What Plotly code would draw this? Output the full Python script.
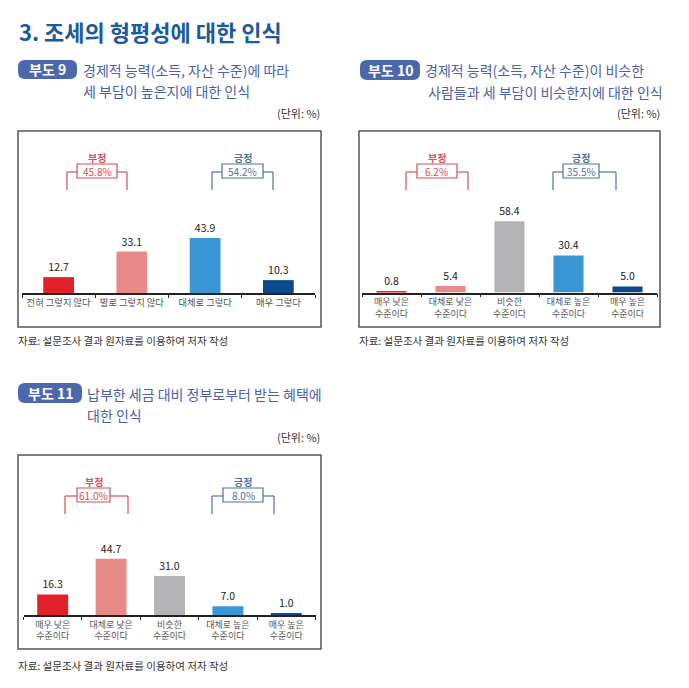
import plotly.graph_objects as go

# The page body has an 8px margin, so the figure is laid out 8px in from the top-left.
OFF = 8
W, H = 673, 672
FONT = "Noto Sans CJK KR"

# ---------------- data ----------------
cats1 = ["전혀 그렇지 않다", "별로 그렇지 않다", "대체로 그렇다", "매우 그렇다"]
vals1 = [12.7, 33.1, 43.9, 10.3]
groups1 = ["45.8%", "54.2%"]

cats2 = ["매우 낮은<br>수준이다", "대체로 낮은<br>수준이다", "비슷한<br>수준이다", "대체로 높은<br>수준이다", "매우 높은<br>수준이다"]
vals2 = [0.8, 5.4, 58.4, 30.4, 5.0]
groups2 = ["6.2%", "35.5%"]

cats3 = ["매우 낮은<br>수준이다", "대체로 낮은<br>수준이다", "비슷한<br>수준이다", "대체로 높은<br>수준이다", "매우 높은<br>수준이다"]
vals3 = [16.3, 44.7, 31.0, 7.0, 1.0]
groups3 = ["61.0%", "8.0%"]

group_names = ["부정", "긍정"]

RED, PINK, GRAY, BLUE, NAVY = "#e3212b", "#e78a88", "#b4b4b6", "#3a96d4", "#0e4a8b"
colors1 = [RED, PINK, BLUE, NAVY]
colors2 = [RED, PINK, GRAY, BLUE, NAVY]
colors3 = [RED, PINK, GRAY, BLUE, NAVY]

def xp(px):
    return (px - OFF) / W

def yp(py):
    return 1 - (py - OFF) / H

fig = go.Figure()

charts = [
    dict(cats=cats1, vals=vals1, colors=colors1, width=0.42, ax="x", ay="y",
         xd=(22, 315), base=293, top=131, scale=1.25, tick=9.3),
    dict(cats=cats2, vals=vals2, colors=colors2, width=0.51, ax="x2", ay="y2",
         xd=(362, 657), base=292.5, top=131, scale=1.22, tick=9),
    dict(cats=cats3, vals=vals3, colors=colors3, width=0.53, ax="x3", ay="y3",
         xd=(23.5, 315.5), base=615, top=455, scale=1.26, tick=9),
]

layout_axes = {}
for i, c in enumerate(charts):
    fig.add_trace(go.Bar(
        x=c["cats"], y=c["vals"], xaxis=c["ax"], yaxis=c["ay"],
        marker=dict(color=c["colors"], line=dict(width=0)),
        width=c["width"],
        text=[f"{v:.1f}" for v in c["vals"]], textposition="outside",
        textfont=dict(family=FONT, size=10.5, color="#222"),
        cliponaxis=False, showlegend=False, hoverinfo="skip",
    ))
    sfx = "" if i == 0 else str(i + 1)
    layout_axes["xaxis" + sfx] = dict(
        domain=[xp(c["xd"][0]), xp(c["xd"][1])], anchor="y" + sfx,
        type="category", showline=True, linecolor="#222", linewidth=1.5,
        ticks="outside", tickson="boundaries", ticklen=3, tickcolor="#222",
        showgrid=False, zeroline=False, fixedrange=True, tickangle=0,
        tickfont=dict(family=FONT, size=c["tick"], color="#555"),
        range=[-0.5, len(c["cats"]) - 0.5],
    )
    layout_axes["yaxis" + sfx] = dict(
        domain=[yp(c["base"]), yp(c["top"])], anchor="x" + sfx,
        range=[0, (c["base"] - c["top"]) / c["scale"]],
        visible=False, showgrid=False, zeroline=False, fixedrange=True,
    )

shapes = []
annotations = []

def text(x, y, s, size, color, xanchor="left", bold=False):
    annotations.append(dict(
        x=xp(x), y=yp(y), xref="paper", yref="paper", text=(f"<b>{s}</b>" if bold else s),
        showarrow=False, xanchor=xanchor, yanchor="middle", borderpad=0,
        font=dict(family=FONT, size=size, color=color),
    ))

def rect(x0, y0, x1, y1, color, width=1.5, fill=None):
    shapes.append(dict(type="rect", xref="paper", yref="paper",
                       x0=xp(x0), x1=xp(x1), y0=yp(y1), y1=yp(y0),
                       line=dict(color=color, width=width),
                       fillcolor=fill if fill else "rgba(0,0,0,0)"))

def line(x0, y0, x1, y1, color, width=1.2):
    shapes.append(dict(type="line", xref="paper", yref="paper",
                       x0=xp(x0), x1=xp(x1), y0=yp(y0), y1=yp(y1),
                       line=dict(color=color, width=width)))

def badge(x0, y0, x1, y1, label, r=7):
    p = (f"M {xp(x0 + r)} {yp(y0)} L {xp(x1 - r)} {yp(y0)} "
         f"Q {xp(x1)} {yp(y0)} {xp(x1)} {yp(y0 + r)} L {xp(x1)} {yp(y1 - r)} "
         f"Q {xp(x1)} {yp(y1)} {xp(x1 - r)} {yp(y1)} L {xp(x0 + r)} {yp(y1)} "
         f"Q {xp(x0)} {yp(y1)} {xp(x0)} {yp(y1 - r)} L {xp(x0)} {yp(y0 + r)} "
         f"Q {xp(x0)} {yp(y0)} {xp(x0 + r)} {yp(y0)} Z")
    shapes.append(dict(type="path", xref="paper", yref="paper", path=p,
                       fillcolor="#4c68ad", line=dict(width=0)))
    text((x0 + x1) / 2, (y0 + y1) / 2, label, 14, "white", xanchor="center", bold=True)

def bracket(xl, xr, bx0, bx1, top, label, value, color):
    # top = chart box top
    hy = top + 41
    by0, by1 = top + 33, top + 47
    line(xl, hy, bx0, hy, color)
    line(bx1, hy, xr, hy, color)
    line(xl, hy, xl, top + 59, color)
    line(xr, hy, xr, top + 59, color)
    rect(bx0, by0, bx1, by1, color, width=1.2, fill="white")
    text((bx0 + bx1) / 2, (by0 + by1) / 2 + 0.5, value, 10, color, xanchor="center")
    text((bx0 + bx1) / 2, top + 26, label, 10, color, xanchor="center", bold=True)

BR_RED, BR_BLUE = "#d4505a", "#4e72a3"
TITLE_C = "#4a62a8"
SUB = 14

# main title
text(18, 31, "3. 조세의 형평성에 대한 인식", 22, "#1b5a9b", bold=True)

# chart 1 headers
badge(18, 60, 77, 79, "부도 9")
text(82, 70, "경제적 능력(소득, 자산 수준)에 따라", SUB, TITLE_C)
text(82, 91, "세 부담이 높은지에 대한 인식", SUB, TITLE_C)
text(321, 113, "(단위: %)", 11, "#333", xanchor="right")
rect(18, 131, 321, 327, "#555", width=1.5)
bracket(67, 127, 77, 117, 131, group_names[0], groups1[0], BR_RED)
bracket(212, 273, 222, 263, 131, group_names[1], groups1[1], BR_BLUE)
text(17, 340, "자료: 설문조사 결과 원자료를 이용하여 저자 작성", 10.5, "#333")

# chart 2 headers
badge(360, 60, 420, 80, "부도 10")
text(424, 70, "경제적 능력(소득, 자산 수준)이 비슷한", SUB, TITLE_C)
text(427, 92, "사람들과 세 부담이 비슷한지에 대한 인식", SUB, TITLE_C)
text(661, 113, "(단위: %)", 11, "#333", xanchor="right")
rect(359, 131, 660, 327, "#555", width=1.5)
bracket(406, 468, 417, 457, 131, group_names[0], groups2[0], BR_RED)
bracket(553, 616, 563, 599, 131, group_names[1], groups2[1], BR_BLUE)
text(358, 340, "자료: 설문조사 결과 원자료를 이용하여 저자 작성", 10.5, "#333")

# chart 3 headers
badge(18, 383, 82, 403, "부도 11")
text(86, 394, "납부한 세금 대비 정부로부터 받는 혜택에", SUB, TITLE_C)
text(86, 415, "대한 인식", SUB, TITLE_C)
text(321, 437, "(단위: %)", 11, "#333", xanchor="right")
rect(18, 455, 321, 649, "#555", width=1.5)
bracket(65, 128, 77, 110, 455, group_names[0], groups3[0], BR_RED)
bracket(212, 274, 223, 263, 455, group_names[1], groups3[1], BR_BLUE)
text(17, 665, "자료: 설문조사 결과 원자료를 이용하여 저자 작성", 10.5, "#333")

fig.update_layout(
    width=W, height=H, margin=dict(l=0, r=0, t=0, b=0),
    paper_bgcolor="white", plot_bgcolor="rgba(0,0,0,0)",
    font=dict(family=FONT),
    shapes=shapes, annotations=annotations, showlegend=False,
    **layout_axes,
)

fig.write_html("out.html", config=dict(displayModeBar=False))
